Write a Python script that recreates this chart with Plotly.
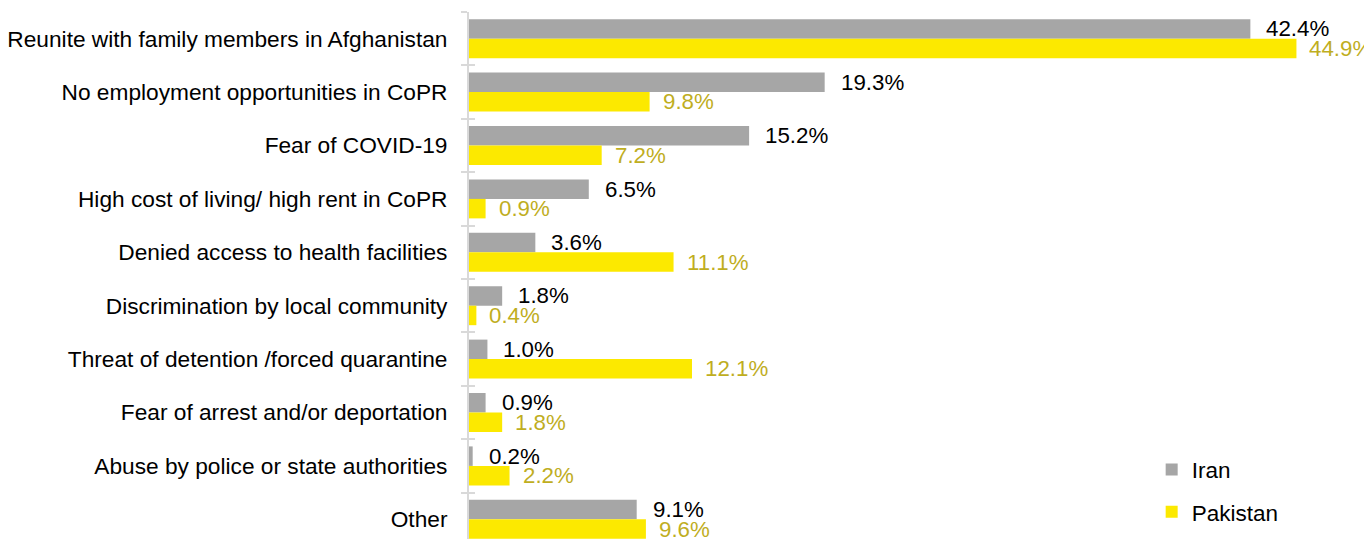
import plotly.graph_objects as go

categories = [
    "Reunite with family members in Afghanistan",
    "No employment opportunities in CoPR",
    "Fear of COVID-19",
    "High cost of living/ high rent in CoPR",
    "Denied access to health facilities",
    "Discrimination by local community",
    "Threat of detention /forced quarantine",
    "Fear of arrest and/or deportation",
    "Abuse by police or state authorities",
    "Other",
]
iran = [42.4, 19.3, 15.2, 6.5, 3.6, 1.8, 1.0, 0.9, 0.2, 9.1]
pakistan = [44.9, 9.8, 7.2, 0.9, 11.1, 0.4, 12.1, 1.8, 2.2, 9.6]

GRAY = "#A6A6A6"
YELLOW = "#FCE900"
YTEXT = "#BFAE1F"
FONT = "Liberation Sans, Arial, sans-serif"
FS = 22.3

fig = go.Figure()
fig.add_trace(go.Bar(name="Iran", y=categories, x=iran, orientation="h",
                     marker=dict(color=GRAY, line=dict(width=0)),
                     legendgroup="a", hoverinfo="skip"))
fig.add_trace(go.Bar(name="Pakistan", y=categories, x=pakistan, orientation="h",
                     marker=dict(color=YELLOW, line=dict(width=0)),
                     legendgroup="b", hoverinfo="skip"))
# invisible helper trace so the overlay axis carries the inward tick marks
fig.add_trace(go.Scatter(x=[0] * len(categories), y=categories, yaxis="y2",
                         mode="markers", marker=dict(opacity=0),
                         showlegend=False, hoverinfo="skip"))

annotations = []
for c, v in zip(categories, iran):
    annotations.append(dict(x=v, y=c, text=f"{v:.1f}%", showarrow=False,
                            xanchor="left", yanchor="middle", xshift=14, yshift=9.75,
                            font=dict(family=FONT, size=FS, color="#000000")))
for c, v in zip(categories, pakistan):
    annotations.append(dict(x=v, y=c, text=f"{v:.1f}%", showarrow=False,
                            xanchor="left", yanchor="middle", xshift=11, yshift=-9.75,
                            font=dict(family=FONT, size=FS, color=YTEXT)))

yrange = [9.369, -0.5]
fig.update_layout(
    template="none",
    width=1364, height=531,
    margin=dict(l=461, r=0, t=4, b=0, pad=0, autoexpand=False),
    paper_bgcolor="white", plot_bgcolor="white",
    barmode="group", bargap=0.27, bargroupgap=0,
    font=dict(family=FONT, size=FS, color="#000000"),
    xaxis=dict(range=[0, 49.0], visible=False, fixedrange=True, automargin=False),
    yaxis=dict(type="category", categoryorder="array", categoryarray=categories,
               range=yrange, showline=True, linecolor="#D9D9D9", linewidth=2,
               ticks="outside", ticklen=6, tickcolor="#D9D9D9", tickwidth=2,
               tickson="boundaries", showgrid=False, zeroline=False,
               ticklabelstandoff=15, automargin=False,
               tickfont=dict(family=FONT, size=22.7, color="#000000")),
    yaxis2=dict(type="category", categoryorder="array", categoryarray=categories,
                overlaying="y", anchor="x", side="left", range=yrange,
                showline=False, ticks="inside", ticklen=6, tickcolor="#D9D9D9",
                tickwidth=2, tickson="boundaries", showticklabels=False,
                showgrid=False, zeroline=False, automargin=False),
    legend=dict(x=0.756, y=0.172, xanchor="left", yanchor="top",
                traceorder="grouped", tracegroupgap=10,
                font=dict(family=FONT, size=22.5, color="#000000"),
                bgcolor="rgba(0,0,0,0)"),
    annotations=annotations,
    showlegend=True,
)

fig.write_html("out.html")
